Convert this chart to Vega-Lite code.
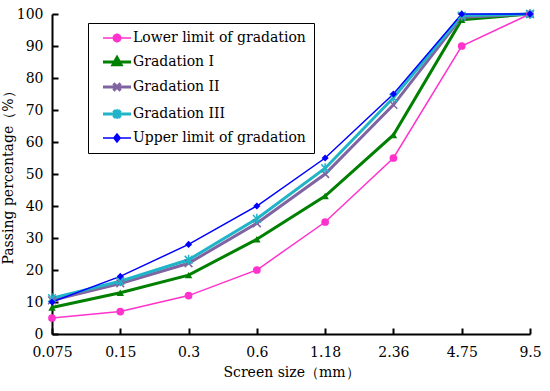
{
  "$schema": "https://vega.github.io/schema/vega-lite/v6.json",
  "autosize": "none",
  "width": 478,
  "height": 320,
  "padding": {"left": 52, "top": 14, "right": 20, "bottom": 57},
  "background": "white",
  "config": {
    "view": {"stroke": null},
    "font": "DejaVu Serif",
    "axis": {
      "grid": false,
      "domainColor": "black",
      "domainWidth": 2,
      "tickColor": "black",
      "tickWidth": 2,
      "labelFont": "DejaVu Serif",
      "labelFontSize": 14,
      "labelColor": "black",
      "titleFont": "DejaVu Serif",
      "titleFontSize": 14,
      "titleFontWeight": "normal",
      "titleColor": "black"
    }
  },
  "data": {
    "values": [
      {"size": "0.075", "series": "Lower limit of gradation", "value": 5},
      {"size": "0.15", "series": "Lower limit of gradation", "value": 7},
      {"size": "0.3", "series": "Lower limit of gradation", "value": 12},
      {"size": "0.6", "series": "Lower limit of gradation", "value": 20},
      {"size": "1.18", "series": "Lower limit of gradation", "value": 35},
      {"size": "2.36", "series": "Lower limit of gradation", "value": 55},
      {"size": "4.75", "series": "Lower limit of gradation", "value": 90},
      {"size": "9.5", "series": "Lower limit of gradation", "value": 100},
      {"size": "0.075", "series": "Gradation I", "value": 8.3},
      {"size": "0.15", "series": "Gradation I", "value": 12.9},
      {"size": "0.3", "series": "Gradation I", "value": 18.4},
      {"size": "0.6", "series": "Gradation I", "value": 29.6},
      {"size": "1.18", "series": "Gradation I", "value": 43.1},
      {"size": "2.36", "series": "Gradation I", "value": 62.2},
      {"size": "4.75", "series": "Gradation I", "value": 98.2},
      {"size": "9.5", "series": "Gradation I", "value": 100},
      {"size": "0.075", "series": "Gradation II", "value": 10.5},
      {"size": "0.15", "series": "Gradation II", "value": 15.8},
      {"size": "0.3", "series": "Gradation II", "value": 22.1},
      {"size": "0.6", "series": "Gradation II", "value": 34.6},
      {"size": "1.18", "series": "Gradation II", "value": 50.0},
      {"size": "2.36", "series": "Gradation II", "value": 71.6},
      {"size": "4.75", "series": "Gradation II", "value": 99.0},
      {"size": "9.5", "series": "Gradation II", "value": 100},
      {"size": "0.075", "series": "Gradation III", "value": 11.2},
      {"size": "0.15", "series": "Gradation III", "value": 16.5},
      {"size": "0.3", "series": "Gradation III", "value": 23.2},
      {"size": "0.6", "series": "Gradation III", "value": 36.0},
      {"size": "1.18", "series": "Gradation III", "value": 51.8},
      {"size": "2.36", "series": "Gradation III", "value": 73.8},
      {"size": "4.75", "series": "Gradation III", "value": 99.5},
      {"size": "9.5", "series": "Gradation III", "value": 100},
      {"size": "0.075", "series": "Upper limit of gradation", "value": 10},
      {"size": "0.15", "series": "Upper limit of gradation", "value": 18},
      {"size": "0.3", "series": "Upper limit of gradation", "value": 28},
      {"size": "0.6", "series": "Upper limit of gradation", "value": 40},
      {"size": "1.18", "series": "Upper limit of gradation", "value": 55},
      {"size": "2.36", "series": "Upper limit of gradation", "value": 75},
      {"size": "4.75", "series": "Upper limit of gradation", "value": 100},
      {"size": "9.5", "series": "Upper limit of gradation", "value": 100}
    ]
  },
  "encoding": {
    "x": {
      "field": "size",
      "type": "ordinal",
      "sort": ["0.075", "0.15", "0.3", "0.6", "1.18", "2.36", "4.75", "9.5"],
      "scale": {"type": "point", "padding": 0},
      "axis": {"title": "Screen size（mm）", "labelAngle": 0, "tickSize": -6, "labelPadding": 17, "titlePadding": 6}
    },
    "y": {
      "field": "value",
      "type": "quantitative",
      "scale": {"domain": [0, 100], "nice": false},
      "axis": {"title": "Passing percentage（%）", "values": [0,10,20,30,40,50,60,70,80,90,100], "tickSize": -6, "labelPadding": 15, "titlePadding": 1}
    },
    "color": {
      "field": "series",
      "type": "nominal",
      "scale": {
        "domain": ["Lower limit of gradation", "Gradation I", "Gradation II", "Gradation III", "Upper limit of gradation"],
        "range": ["#ff33cc", "#008000", "#8064a2", "#1fb4c8", "#0000ff"]
      },
      "legend": {
        "title": null,
        "orient": "none",
        "legendX": 36,
        "legendY": 9,
        "padding": 8,
        "strokeColor": "black",
        "fillColor": "white",
        "labelFont": "DejaVu Serif",
        "labelFontSize": 14,
        "labelColor": "black",
        "labelLimit": 300,
        "symbolSize": 64,
        "symbolOffset": 14,
        "labelOffset": 9,
        "rowPadding": 6,
        "symbolStrokeWidth": 1.5,
        "encode": {
          "symbols": {
            "update": {
              "shape": {"signal": "datum.value === 'Lower limit of gradation' ? 'M-3.5,0L3.5,0M1,0L0.7,0.7L0,1L-0.7,0.7L-1,0L-0.7,-0.7L0,-1L0.7,-0.7Z' : datum.value === 'Gradation I' ? 'M-3.5,0L3.5,0M0,-1.1L1,0.7L-1,0.7Z' : datum.value === 'Gradation II' ? 'M-3.5,0L3.5,0M-0.9,-0.9L0.9,0.9M-0.9,0.9L0.9,-0.9' : datum.value === 'Gradation III' ? 'M-3.5,0L3.5,0M-0.9,-0.9L0.9,0.9M-0.9,0.9L0.9,-0.9M0,-1.2L0,1.2' : 'M-3.5,0L3.5,0M0,-1L0.8,0L0,1L-0.8,0Z'"},
              "strokeWidth": {"signal": "datum.value === 'Lower limit of gradation' || datum.value === 'Upper limit of gradation' ? 1.5 : 3"},
              "fill": {"signal": "scale('color', datum.value)"},
              "stroke": {"signal": "scale('color', datum.value)"}
            }
          }
        }
      }
    }
  },
  "layer": [
    {
      "transform": [{"filter": "datum.series === 'Lower limit of gradation'"}],
      "mark": {"type": "line", "strokeWidth": 1.5}
    },
    {
      "transform": [{"filter": "datum.series === 'Gradation I' || datum.series === 'Gradation II' || datum.series === 'Gradation III'"}],
      "mark": {"type": "line", "strokeWidth": 3}
    },
    {
      "transform": [{"filter": "datum.series === 'Upper limit of gradation'"}],
      "mark": {"type": "line", "strokeWidth": 1.5}
    },
    {
      "transform": [{"filter": "datum.series === 'Lower limit of gradation'"}],
      "mark": {"type": "point", "shape": "circle", "filled": true, "opacity": 1, "size": 60}
    },
    {
      "transform": [{"filter": "datum.series === 'Gradation I'"}],
      "mark": {"type": "point", "shape": "triangle-up", "filled": true, "opacity": 1, "size": 55}
    },
    {
      "transform": [{"filter": "datum.series === 'Gradation II'"}],
      "mark": {"type": "point", "shape": "M-1,-1L1,1M-1,1L1,-1", "filled": false, "opacity": 1, "strokeWidth": 1.5, "size": 60}
    },
    {
      "transform": [{"filter": "datum.series === 'Gradation III'"}],
      "mark": {"type": "point", "shape": "M-1,-1L1,1M-1,1L1,-1M0,-1.3L0,1.3", "filled": false, "opacity": 1, "strokeWidth": 1.5, "size": 60}
    },
    {
      "transform": [{"filter": "datum.series === 'Upper limit of gradation'"}],
      "mark": {"type": "point", "shape": "diamond", "filled": true, "opacity": 1, "size": 50}
    }
  ]
}
